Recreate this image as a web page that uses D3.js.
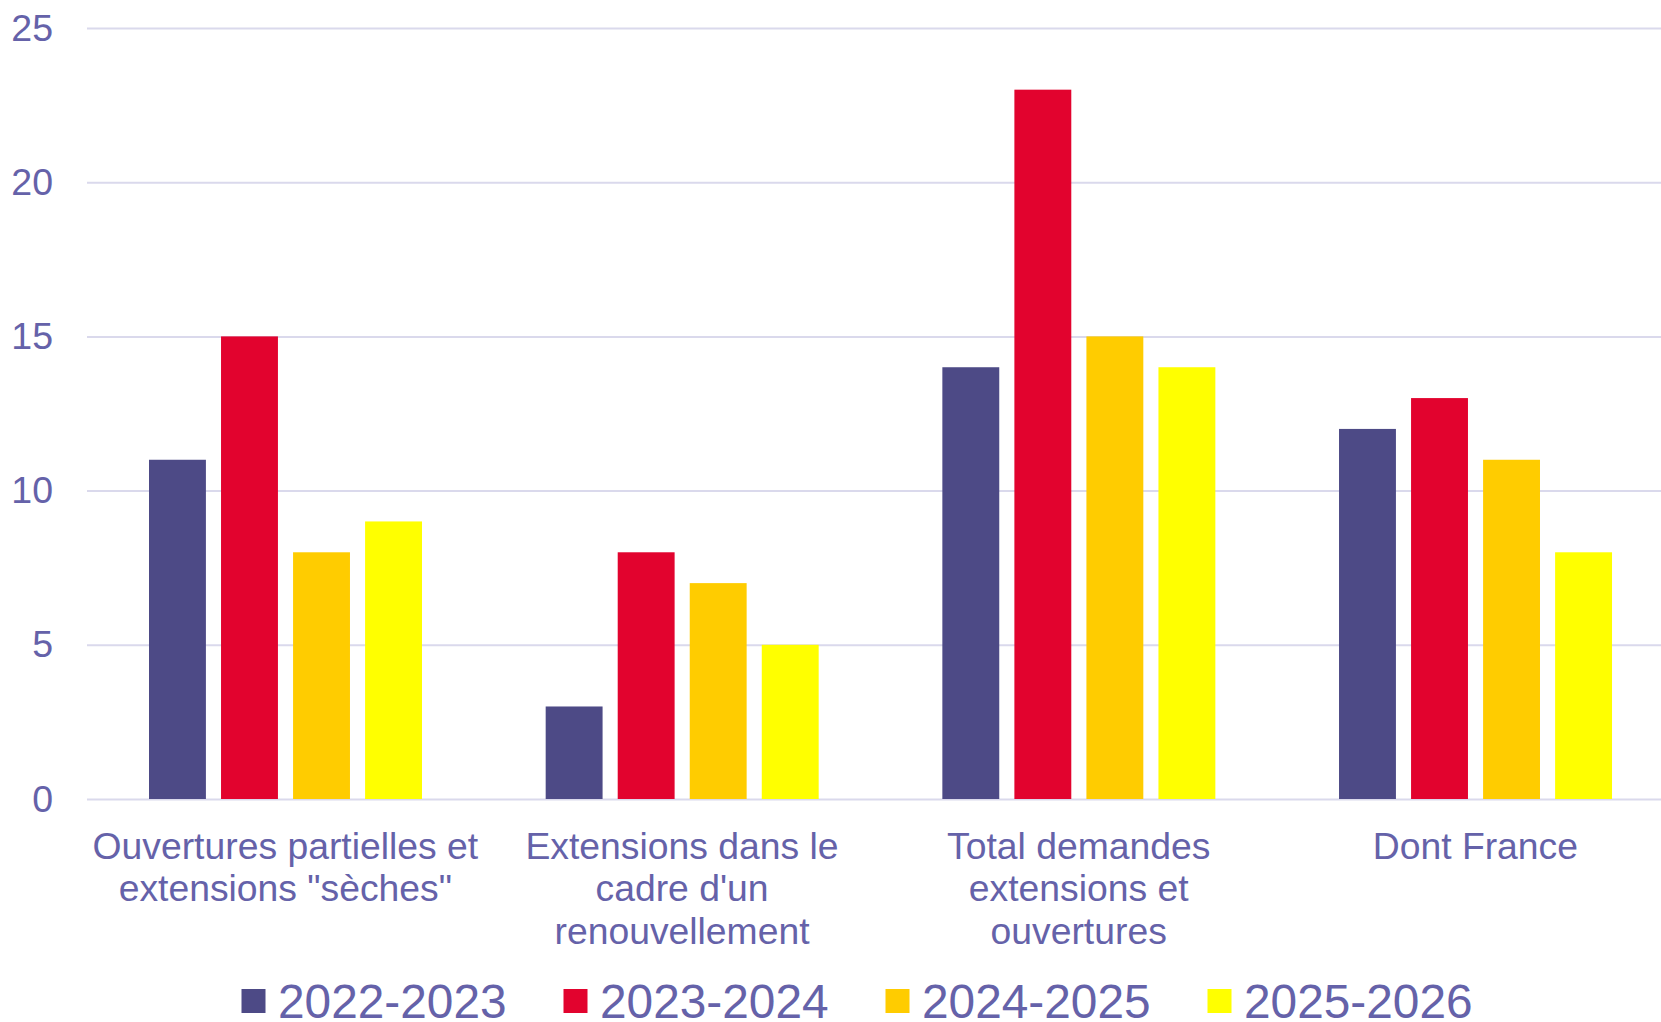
<!DOCTYPE html>
<html><head><meta charset="utf-8">
<script src="https://cdn.jsdelivr.net/npm/d3@7"></script>
<style>
html,body{margin:0;padding:0;background:#fff;overflow:hidden;}
svg{display:block;font-family:"Liberation Sans",Arial,sans-serif;}
</style></head>
<body>
<svg id="chart" width="1661" height="1022"></svg>
<script>
const categories = [
  ["Ouvertures partielles et", "extensions \"sèches\""],
  ["Extensions dans le", "cadre d'un", "renouvellement"],
  ["Total demandes", "extensions et", "ouvertures"],
  ["Dont France"]
];
const seriesNames = ["2022-2023", "2023-2024", "2024-2025", "2025-2026"];
const s2022 = [11, 3, 14, 12];
const s2023 = [15, 8, 23, 13];
const s2024 = [8, 7, 15, 11];
const s2025 = [9, 5, 14, 8];
const seriesValues = [s2022, s2023, s2024, s2025];
const colors = ["#4D4A86", "#E2032E", "#FFCC00", "#FFFF00"];
const yTicks = [0, 5, 10, 15, 20, 25];

const textColor = "#6562A9";
const gridColor = "#DAD9EC";

const svg = d3.select("#chart");
const x0 = 87, plotW = 1586.7;
const y = d3.scaleLinear().domain([0, 25]).range([799, 28]);
const x = d3.scaleBand().domain(d3.range(categories.length)).range([x0, x0 + plotW]).padding(0);
const xi = d3.scaleBand().domain(d3.range(seriesNames.length)).range([62, 335]).paddingInner(0.21).paddingOuter(0);

// gridlines
const yAxis = d3.axisLeft(y).tickValues(yTicks).tickSize(-(plotW)).tickPadding(34).tickFormat(d3.format("d"));
const gy = svg.append("g").attr("transform", `translate(${x0},0)`).call(yAxis);
gy.select(".domain").remove();
gy.selectAll(".tick line").attr("stroke", gridColor).attr("stroke-width", 2);
gy.selectAll(".tick text").attr("fill", textColor).attr("font-size", 37.5)
  .attr("font-family", "'Liberation Sans', Arial, sans-serif");

// bars
const groups = svg.append("g").selectAll("g").data(categories).join("g")
  .attr("transform", (d, i) => `translate(${x(i)},0)`);
groups.selectAll("rect").data((d, i) => seriesValues.map((s, j) => ({ j, v: s[i] }))).join("rect")
  .attr("x", d => xi(d.j))
  .attr("width", xi.bandwidth())
  .attr("y", d => y(d.v))
  .attr("height", d => y(0) - y(d.v))
  .attr("fill", d => colors[d.j]);

// x labels
const lab = svg.append("g").selectAll("text").data(categories).join("text")
  .attr("text-anchor", "middle")
  .attr("fill", textColor)
  .attr("font-size", 37.3)
  .attr("x", (d, i) => x(i) + x.bandwidth() / 2)
  .attr("y", 858.5);
lab.selectAll("tspan").data(d => d).join("tspan")
  .attr("x", function () { return d3.select(this.parentNode).attr("x"); })
  .attr("dy", (d, k) => k === 0 ? 0 : 42.5)
  .text(d => d);

// legend
const leg = svg.append("g").selectAll("g").data(seriesNames).join("g")
  .attr("transform", (d, i) => `translate(${241.5 + i * 322},0)`);
leg.append("rect").attr("x", 0).attr("y", 989).attr("width", 24).attr("height", 24)
  .attr("fill", (d, i) => colors[i]);
leg.append("text").attr("x", 36.5).attr("y", 1017.5).attr("fill", textColor)
  .attr("font-size", 47.8).text(d => d);
</script>
</body></html>
